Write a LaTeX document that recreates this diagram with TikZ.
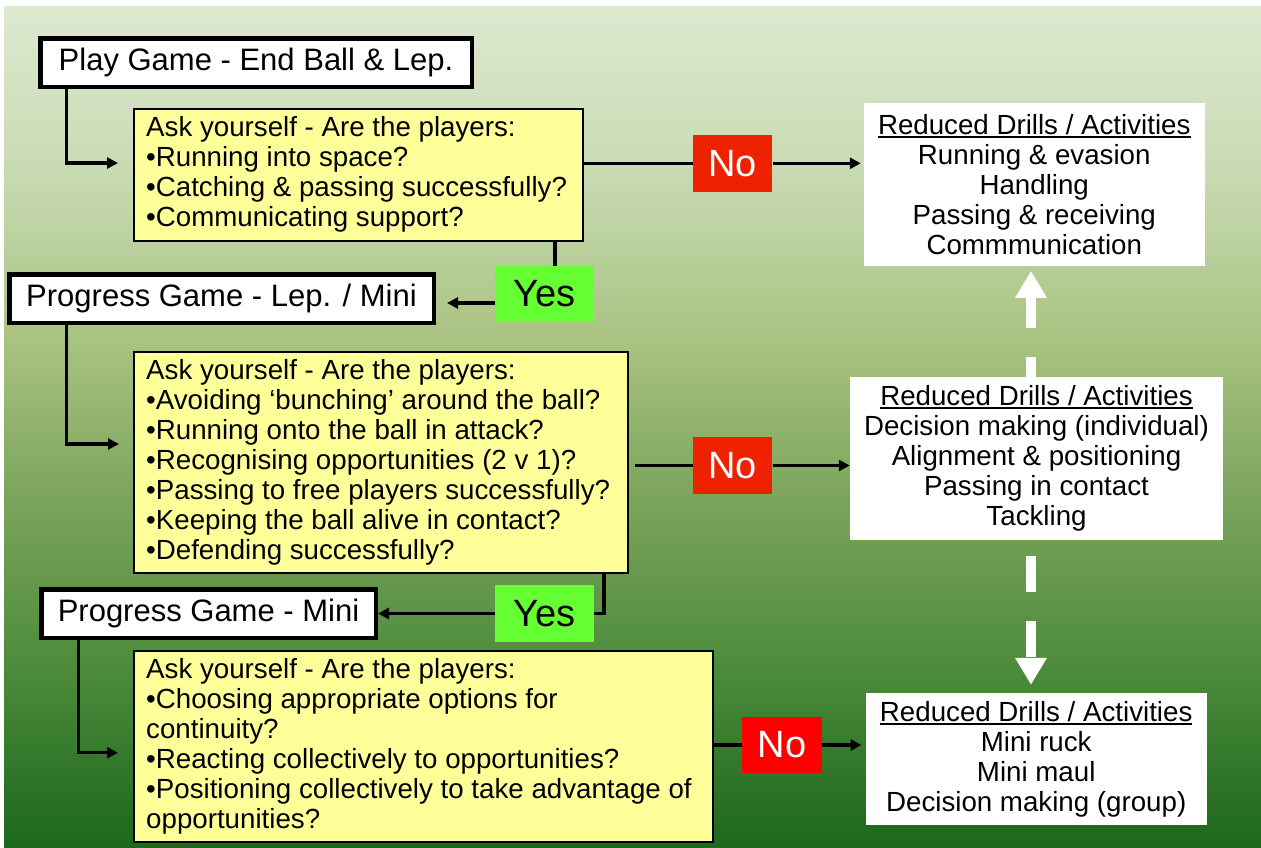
\documentclass[tikz,border=0pt]{standalone}
\usepackage{fontspec}
\setmainfont{Liberation Sans}
\usetikzlibrary{arrows.meta,calc}
\definecolor{bg0}{RGB}{28,104,28}
\definecolor{bg1}{RGB}{78,140,60}
\definecolor{bg2}{RGB}{122,164,90}
\definecolor{bg3}{RGB}{168,194,128}
\definecolor{bg4}{RGB}{200,218,178}
\definecolor{bg5}{RGB}{222,233,208}
\definecolor{askyellow}{RGB}{255,255,153}
\definecolor{noredA}{RGB}{238,34,0}
\definecolor{noredB}{RGB}{255,0,0}
\definecolor{yesgreen}{RGB}{102,255,51}
\pgfdeclareverticalshading{bgshade}{100bp}{color(0bp)=(bg0); color(25bp)=(bg0); color(36bp)=(bg1); color(45.5bp)=(bg2); color(54.9bp)=(bg3); color(65bp)=(bg4); color(75bp)=(bg5); color(100bp)=(bg5)}
\newcommand{\ulbox}[1]{\sbox0{#1}\rlap{\rule[-3.5pt]{\wd0}{2pt}}\usebox0}
\begin{document}
\begin{tikzpicture}[x=1pt,y=-1pt,
  hdr/.style={draw=black, line width=4.5pt, fill=white, inner sep=0pt, font=\fontsize{31}{36}\selectfont},
  ask/.style={draw=black, line width=2pt, fill=askyellow, inner sep=0pt},
  asktext/.style={anchor=west, inner sep=0pt, align=left, font=\fontsize{27.7}{30}\selectfont},
  drill/.style={fill=white, inner sep=0pt, align=center, font=\fontsize{27.7}{30}\selectfont},
  nobox/.style={text=white, inner sep=0pt, minimum width=79.5pt, minimum height=56.5pt, font=\fontsize{38}{40}\selectfont},
  yesbox/.style={fill=yesgreen, text=black, inner sep=0pt, minimum width=99pt, minimum height=56.5pt, font=\fontsize{38}{40}\selectfont},
  conn/.style={draw=black, line width=3.5pt, -{Triangle[length=11pt,width=11pt]}},
  link/.style={draw=black, line width=3.5pt},
  wdash/.style={draw=white, line width=10pt, -{Triangle[length=27pt,width=30pt]}}
]
\useasboundingbox (0,0) rectangle (1261,847);
\fill[white] (0,0) rectangle (1261,847);
\shade[shading=bgshade] (4,6) rectangle (1261,847);

% header boxes
\node[hdr, minimum width=431.5pt, minimum height=48.5pt] (A) at (256,62.5) {Play Game - End Ball \& Lep.};
\node[hdr, minimum width=424.5pt, minimum height=48.5pt] (B) at (221.5,298.5) {Progress Game - Lep. / Mini};
\node[hdr, minimum width=334.5pt, minimum height=48.5pt] (C) at (208.5,613.5) {Progress Game - Mini};

% question boxes
\node[ask, minimum width=449pt, minimum height=131.5pt] (Q1) at (358.5,174.75) {};
\node[asktext] (Q1t) at ($(Q1.west)+(13,0)$) {Ask yourself - Are the players:\\
•Running into space?\\
•Catching \& passing successfully?\\
•Communicating support?};
\node[ask, minimum width=493.6pt, minimum height=221pt] (Q2) at (380.8,462.5) {};
\node[asktext] (Q2t) at ($(Q2.west)+(13,0)$) {Ask yourself - Are the players:\\
•Avoiding ‘bunching’ around the ball?\\
•Running onto the ball in attack?\\
•Recognising opportunities (2 v 1)?\\
•Passing to free players successfully?\\
•Keeping the ball alive in contact?\\
•Defending successfully?};
\node[ask, minimum width=579pt, minimum height=191pt] (Q3) at (423.5,746.5) {};
\node[asktext] (Q3t) at ($(Q3.west)+(13,0)$) {Ask yourself - Are the players:\\
•Choosing appropriate options for\\
continuity?\\
•Reacting collectively to opportunities?\\
•Positioning collectively to take advantage of\\
opportunities?};

% drill boxes
\node[drill, minimum width=340.5pt, minimum height=163pt] (R1) at (1034.25,184.2) {\ulbox{Reduced Drills / Activities}\\
Running \& evasion\\
Handling\\
Passing \& receiving\\
Commmunication};
\node[drill, minimum width=373pt, minimum height=163pt] (R2) at (1036.5,458.5) {\ulbox{Reduced Drills / Activities}\\
Decision making (individual)\\
Alignment \& positioning\\
Passing in contact\\
Tackling};
\node[drill, minimum width=341pt, minimum height=132pt] (R3) at (1036.2,759) {\ulbox{Reduced Drills / Activities}\\
Mini ruck\\
Mini maul\\
Decision making (group)};

% yes / no boxes
\node[nobox, fill=noredA] (No1) at (732.6,163.3) {No};
\node[nobox, fill=noredA] (No2) at (732.6,465.5) {No};
\node[nobox, fill=noredB] (No3) at (782.2,745) {No};
\node[yesbox] (Yes1) at (544.5,294) {Yes};
\node[yesbox] (Yes2) at (544.5,613.5) {Yes};

% connectors
\coordinate (ca) at (66.4,163);
\coordinate (cb) at (66.4,444);
\coordinate (cc) at (78.5,752.7);
\draw[conn] (A.south -| ca) |- ($(Q1.west |- ca)+(-15,0)$);
\draw[conn] (B.south -| cb) |- ($(Q2.west |- cb)+(-14,0)$);
\draw[conn] (C.south -| cc) |- ($(Q3.west |- cc)+(-15,0)$);

\draw[link] (Q1.east |- No1.west) -- (No1.west);
\draw[conn, shorten >=3pt] (No1.east) -- (R1.west |- No1.east);
\draw[link] ($(Q2.east |- No2.west)+(6,0)$) -- (No2.west);
\draw[conn] (No2.east) -- (R2.west |- No2.east);
\draw[link] (Q3.east |- No3.west) -- (No3.west);
\draw[conn, shorten >=4pt] (No3.east) -- (R3.west |- No3.east);

\coordinate (y1top) at ($(Yes1.north)+(10.5,0)$);
\draw[link] (y1top |- Q1.south) -- (y1top);
\draw[conn, shorten >=11pt] ($(Yes1.west)+(0,9)$) -- ($(B.east |- Yes1.west)+(0,9)$);
\coordinate (q2out) at (604,0);
\draw[link] (Q2.south -| q2out) |- (Yes2.east);
\draw[conn] (Yes2.west) -- (C.east);

% white dashed arrows
\coordinate (vx) at (1031,0);
\draw[wdash, dash pattern=on 32pt off 29pt, dash phase=12pt, shorten >=5pt] (R2.north -| vx) -- (R1.south -| vx);
\draw[wdash, dash pattern=on 36pt off 29pt, dash phase=49pt, shorten >=8pt] (R2.south -| vx) -- (R3.north -| vx);
\end{tikzpicture}
\end{document}
